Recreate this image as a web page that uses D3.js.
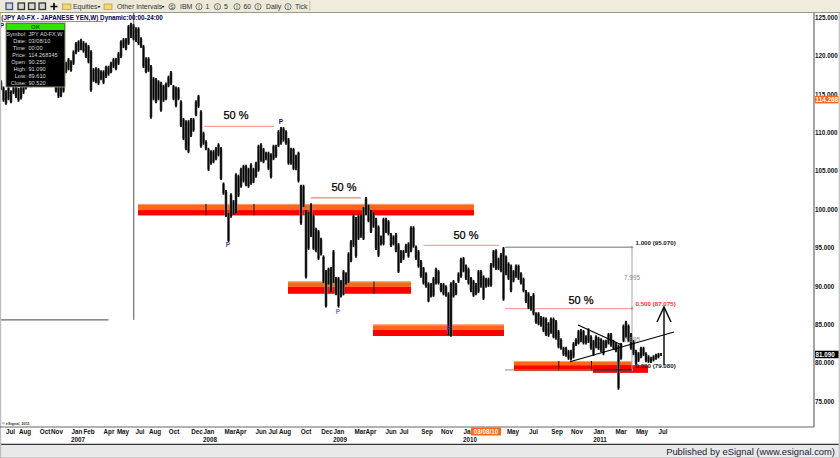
<!DOCTYPE html>
<html>
<head>
<meta charset="utf-8">
<script src="https://cdn.jsdelivr.net/npm/d3@7"></script>
<style>
  html, body { margin: 0; padding: 0; background: #fff; }
  svg { display: block; font-family: "Liberation Sans", Arial, sans-serif; }
</style>
</head>
<body>
<div id="chart"></div>
<script>
// weekly high / low of JPY A0-FX
const highs = [
  116.8,116.0,115.5,116.0,115.5,117.0,116.5,115.8,116.0,116.5,
  117.0,117.5,117.2,117.8,118.0,118.5,118.3,118.0,118.4,118.2,
  117.8,117.6,117.2,116.8,116.5,117.5,119.2,119.7,119.4,120.7,
  121.8,122.0,122.2,121.9,121.7,121.4,120.7,118.4,118.5,118.4,
  118.1,118.1,118.7,118.7,119.2,119.7,119.7,120.5,122.0,122.3,
  122.3,124.0,124.3,124.1,123.7,123.7,122.4,121.4,119.8,119.8,
  118.8,117.2,117.1,116.8,116.6,116.2,116.5,117.4,118.0,116.2,
  116.0,115.9,114.2,111.9,111.6,111.6,111.9,111.9,114.2,114.9,
  112.9,110.1,109.0,108.0,107.7,107.7,108.1,108.6,108.1,103.5,
  102.5,99.5,102.1,101.2,104.7,104.5,105.4,105.8,105.8,105.4,
  106.0,105.4,106.2,108.4,108.6,108.0,107.5,107.5,107.3,108.4,
  108.4,110.3,110.7,110.7,110.3,109.3,108.0,108.0,107.1,107.5,
  103.2,103.2,99.9,99.6,100.8,99.3,97.6,97.3,96.3,94.0,
  92.1,92.4,92.5,94.7,91.2,91.2,90.8,92.1,91.8,94.4,
  96.0,99.3,99.0,99.3,99.3,100.3,101.6,100.6,99.9,99.6,
  98.9,97.9,96.6,98.9,98.9,98.6,96.9,96.6,96.9,95.6,
  94.7,94.7,95.5,95.7,97.8,97.8,95.3,94.7,93.4,92.5,
  91.8,90.5,90.4,91.2,92.4,92.1,90.4,90.4,90.1,89.2,
  90.5,90.8,90.4,91.8,93.7,93.8,92.8,92.4,91.2,90.8,
  90.4,92.1,92.1,91.4,91.1,91.1,93.0,94.7,94.8,93.7,
  94.3,95.1,94.0,93.1,92.8,92.1,92.8,92.8,91.8,91.1,
  89.5,89.2,88.7,89.1,86.6,86.6,86.1,86.0,85.9,85.3,
  85.9,85.9,85.6,84.3,83.2,82.1,82.1,81.7,81.7,82.7,
  83.2,84.3,84.4,84.3,83.6,84.5,83.6,83.0,83.6,83.4,
  83.2,83.0,83.0,83.9,83.9,83.0,82.7,82.4,82.6,85.0,
  85.5,85.0,83.9,83.0,81.7,81.4,82.1,82.1,81.4,81.0,
  80.8,81.0,81.2,81.3,81.3
];
const lows = [
  115.5,114.0,113.6,114.2,113.8,115.0,114.5,114.0,114.3,115.0,
  115.6,116.0,115.9,116.2,116.5,117.0,116.8,116.6,116.9,116.6,
  116.2,116.0,115.2,114.5,114.6,115.2,117.7,118.1,117.9,118.8,
  120.2,120.5,120.7,120.4,119.7,119.0,115.3,116.6,116.4,116.2,
  116.8,116.3,117.1,117.4,117.7,118.4,118.1,118.8,119.7,121.0,
  120.7,121.4,122.3,122.0,121.8,121.4,121.0,118.4,117.7,117.9,
  111.8,114.2,113.8,114.2,112.7,114.0,114.2,115.9,116.2,114.2,
  113.3,114.2,110.7,109.0,107.7,107.3,109.4,110.1,112.1,113.2,
  108.0,108.4,107.7,105.0,105.8,106.0,106.4,106.9,103.8,101.9,
  99.0,95.7,98.9,99.3,99.5,101.6,102.8,103.5,103.0,102.8,
  103.2,103.4,104.1,104.9,106.2,106.0,106.4,105.1,104.0,106.4,
  106.7,108.1,108.4,108.8,108.4,105.8,105.8,105.1,105.1,103.5,
  98.0,100.3,91.0,94.7,96.4,94.7,94.4,93.4,94.0,90.4,
  87.2,90.2,89.2,90.4,88.8,87.2,88.5,88.8,90.2,90.4,
  93.1,95.1,93.7,96.0,96.3,96.0,99.3,98.3,96.9,97.6,
  94.7,93.8,95.3,95.3,96.9,96.6,95.1,95.3,94.4,91.7,
  93.0,93.4,94.3,93.7,94.4,95.0,93.4,92.4,91.1,90.2,
  89.8,87.9,88.5,88.6,90.2,90.2,89.2,88.8,88.6,83.6,
  83.4,88.5,88.8,90.4,91.1,91.8,90.8,90.2,89.2,88.6,
  88.8,89.1,89.8,88.2,89.8,89.9,89.9,92.4,92.1,92.1,
  91.8,88.1,91.4,90.8,89.2,90.5,91.1,90.8,90.2,89.2,
  87.8,87.0,86.8,86.2,85.1,84.9,84.7,84.0,83.5,83.4,
  83.8,83.2,83.0,81.9,81.7,80.9,80.8,80.4,80.3,80.6,
  82.2,82.4,82.7,82.4,82.4,82.6,81.7,80.9,81.9,81.7,
  81.4,81.0,81.9,82.4,82.1,81.7,81.4,76.5,80.4,82.7,
  83.2,82.7,81.7,81.0,79.7,80.1,80.6,80.9,80.1,80.0,
  80.0,80.2,80.4,80.6,80.9
];

const monthLabels = ["Jul","Aug","Oct","Nov","Jan","Feb","Apr","May","Jul","Aug","Oct","Dec","Jan","Mar","Apr","Jun","Jul","Aug","Oct","Dec","Jan","Mar","Apr","Jun","Jul","Sep","Nov","Jan","May","Jul","Sep","Nov","Jan","Mar","May","Jul"];
const monthWeeks = [3.8,9.6,17.6,22.4,30.4,35.2,43.2,48.8,55.6,61.6,69.2,78.4,83.2,91.6,96,104,108.8,113.6,122,130.4,135.2,143.6,148,156,161.2,170.4,178.4,187.2,204.8,213,222.4,230.4,239.2,248,256.4,264.8];
const yearLabels = ["2007","2008","2009","2010","2011"];
const yearWeeks = [30.8,83.6,135.6,187.6,239.6];
const priceTicks = [75,80,85,90,95,100,105,110,115,120,125];

// support zones: start week, end week, top, middle, bottom price
const zoneStart = [54.8,114.8,148.8,205.2];
const zoneEnd = [189.2,164,201.2,252.4];
const zoneTop = [100.7,90.6,85.0,80.25];
const zoneMid = [99.9,89.9,84.3,79.7];
const zoneBottom = [99.2,89.0,83.5,78.95];
const zoneTickWeeks = [82,101.2,149.2,223.1,236.2];
const zoneTickZone = [0,0,1,3,3];

// 50 % retracement lines
const halfStart = [81.2,124,169,201.6];
const halfEnd = [109.2,144,199.2,252.4];
const halfPrice = [110.8,101.5,95.3,87.075];
const halfLabelWeek = [94,137.2,186,232];
const halfLabelPrice = [111.7,102.4,96.1,87.65];
const pivotWeeks = [112,90.8,134.8,179,0.4];
const pivotPrices = [111.05,95.1,86.4,84.1,123.6];

const fibLabels = ["1.000 (95.070)","0.500 (87.075)","0.000 (79.080)"];
const fibPrices = [95.07,87.075,79.08];
const fibHeight = ["7.995","7.995"];
const fibHeightPrices = [91.0,83.0];

const tooltipKeys = ["Symbol:","Date:","Time:","Price:","Open:","High:","Low:","Close:"];
const tooltipValues = ["JPY A0-FX,W","03/08/10","00:00","114.268345","90.250","91.090","89.610","90.520"];

const width = 840, height = 458;
const axisX = 814, axisY = 427, chartTop = 13;
const orange = "#ff661a";

const x = d3.scaleLinear().domain([0, 100]).range([1, 251]);
const y = d3.scaleLinear().domain([75, 125]).range([401.3, 17.3]);

const svg = d3.select("#chart").append("svg")
  .attr("width", width)
  .attr("height", height);

svg.append("rect").attr("width", width).attr("height", height).attr("fill", "#fff");

// zones sit under the price bars
const zones = svg.append("g");
zoneStart.forEach((start, i) => {
  zones.append("rect")
    .attr("x", x(start)).attr("y", y(zoneTop[i]))
    .attr("width", x(zoneEnd[i]) - x(start))
    .attr("height", y(zoneMid[i]) - y(zoneTop[i]))
    .attr("fill", orange);
  zones.append("rect")
    .attr("x", x(start)).attr("y", y(zoneMid[i]))
    .attr("width", x(zoneEnd[i]) - x(start))
    .attr("height", y(zoneBottom[i]) - y(zoneMid[i]))
    .attr("fill", "#ff0000");
  zones.append("rect")
    .attr("x", x(start)).attr("y", y(zoneTop[i]))
    .attr("width", x(zoneEnd[i]) - x(start))
    .attr("height", 1)
    .attr("fill", "#ffa27a");
});
// extra red strip under the last zone
zones.append("rect")
  .attr("x", x(236.8)).attr("y", y(79.7))
  .attr("width", x(258.8) - x(236.8))
  .attr("height", y(78.7) - y(79.7))
  .attr("fill", "#ff0000");

zoneTickWeeks.forEach((week, i) => {
  const zone = zoneTickZone[i];
  zones.append("line")
    .attr("x1", x(week)).attr("x2", x(week))
    .attr("y1", y(zoneTop[zone])).attr("y2", y(zoneBottom[zone]))
    .attr("stroke", "#111").attr("stroke-width", 1);
});

// crosshair
svg.append("line")
  .attr("x1", x(53.1)).attr("x2", x(53.1))
  .attr("y1", chartTop).attr("y2", y(85.6))
  .attr("stroke", "#555").attr("stroke-width", 1);
svg.append("line")
  .attr("x1", 0).attr("x2", x(43))
  .attr("y1", y(85.6)).attr("y2", y(85.6))
  .attr("stroke", "#444").attr("stroke-width", 1);

// pink 50 % lines
halfStart.forEach((start, i) => {
  svg.append("line")
    .attr("x1", x(start)).attr("x2", x(halfEnd[i]))
    .attr("y1", y(halfPrice[i])).attr("y2", y(halfPrice[i]))
    .attr("stroke", i === 1 ? "#f08070" : "#ffa0a0")
    .attr("stroke-width", 1.3);
});

// fib grid
svg.append("line")
  .attr("x1", x(201.6)).attr("x2", x(252.4))
  .attr("y1", y(95.07)).attr("y2", y(95.07))
  .attr("stroke", "#a0a0a0").attr("stroke-width", 1.5);
svg.append("line")
  .attr("x1", x(201.6)).attr("x2", x(252.4))
  .attr("y1", y(79.08)).attr("y2", y(79.08))
  .attr("stroke", "#888").attr("stroke-width", 1);
svg.append("line")
  .attr("x1", x(252.4)).attr("x2", x(252.4))
  .attr("y1", y(95.07)).attr("y2", y(79.08))
  .attr("stroke", "#a8a8a8").attr("stroke-width", 1);
fibPrices.forEach((price) => {
  svg.append("circle")
    .attr("cx", x(252.4)).attr("cy", y(price)).attr("r", 1.2)
    .attr("fill", "#999");
});

// price bars: grey halo first, the black stem over it
const bars = svg.append("g");
bars.selectAll("line.halo")
  .data(highs)
  .enter()
  .append("line")
  .attr("class", "halo")
  .attr("x1", (d, i) => x(i))
  .attr("x2", (d, i) => x(i))
  .attr("y1", (d) => y(d) + 1.5)
  .attr("y2", (d, i) => y(lows[i]) - 1.5)
  .attr("stroke", "#8c8c8c")
  .attr("stroke-width", 3);
bars.selectAll("line.stem")
  .data(highs)
  .enter()
  .append("line")
  .attr("class", "stem")
  .attr("x1", (d, i) => x(i))
  .attr("x2", (d, i) => x(i))
  .attr("y1", (d) => y(d))
  .attr("y2", (d, i) => y(lows[i]))
  .attr("stroke", "#000")
  .attr("stroke-width", 1.7);

svg.append("line")
  .attr("x1", x(236.8)).attr("x2", x(252.4))
  .attr("y1", y(79.08)).attr("y2", y(79.08))
  .attr("stroke", "#222").attr("stroke-width", 1.2);

// trend lines and target arrow
const trendLine = d3.line().x((d) => x(d[0])).y((d) => y(d[1]));
[
  [[227.6, 80.16], [269.2, 84.03]],
  [[230.8, 84.93], [248.4, 82.33]],
  [[265.2, 79.73], [265.2, 87.28]],
  [[262.4, 85.33], [265.2, 87.28], [268, 85.33]]
].forEach((points, i) => {
  svg.append("path")
    .attr("d", trendLine(points))
    .attr("fill", "none")
    .attr("stroke", "#000")
    .attr("stroke-width", i < 2 ? 1.1 : 1.4);
});

// labels on the chart
halfLabelWeek.forEach((week, i) => {
  svg.append("text")
    .attr("x", x(week)).attr("y", y(halfLabelPrice[i]))
    .attr("text-anchor", "middle")
    .attr("font-size", 11)
    .attr("stroke", "#000").attr("stroke-width", 0.25)
    .attr("fill", "#000")
    .text("50 %");
});
pivotWeeks.forEach((week, i) => {
  svg.append("text")
    .attr("x", x(week)).attr("y", y(pivotPrices[i]))
    .attr("text-anchor", "middle")
    .attr("font-size", 6.5)
    .attr("font-weight", 700)
    .attr("fill", ["#000080", "#6a3d9a", "#8a6bc0", "#6a2fa0", "#000080"][i])
    .text("P");
});
fibLabels.forEach((label, i) => {
  svg.append("text")
    .attr("x", x(252.4) + 3.5).attr("y", y(fibPrices[i]) - [2.2, 2.2, 2][i])
    .attr("font-size", 6.2)
    .attr("font-weight", 700)
    .attr("fill", i === 1 ? "#ff3030" : "#222")
    .text(label);
});
fibHeight.forEach((label, i) => {
  svg.append("text")
    .attr("x", x(252.4)).attr("y", y(fibHeightPrices[i]) + 2)
    .attr("text-anchor", "middle")
    .attr("font-size", 6.4)
    .attr("fill", "#888")
    .text(label);
});

// title
svg.append("text")
  .attr("x", 1.3).attr("y", 20)
  .attr("font-size", 6.3).attr("font-weight", 700)
  .attr("fill", "#000050")
  .text("(JPY A0-FX - JAPANESE YEN,W) Dynamic:00:00-24:00");
svg.append("line")
  .attr("x1", 2).attr("x2", 103).attr("y1", 21.5).attr("y2", 21.5)
  .attr("stroke", "#f04040").attr("stroke-width", 0.8);

// cursor window
svg.append("rect")
  .attr("x", 6).attr("y", 23).attr("width", 59).attr("height", 64)
  .attr("fill", "#000").attr("stroke", "#8a8a70").attr("stroke-width", 1);
svg.append("rect")
  .attr("x", 6.5).attr("y", 23.5).attr("width", 58).attr("height", 6.5)
  .attr("fill", "#2ee600");
svg.append("text")
  .attr("x", 35.5).attr("y", 29)
  .attr("text-anchor", "middle")
  .attr("font-size", 6).attr("font-weight", 700)
  .attr("fill", "#0a6600")
  .text("OK");
tooltipKeys.forEach((key, i) => {
  const rowY = 36 + i * 7;
  svg.append("text")
    .attr("x", 26.5).attr("y", rowY)
    .attr("text-anchor", "end")
    .attr("font-size", 5.6).attr("fill", "#d8d8d8")
    .text(key);
  svg.append("text")
    .attr("x", 28.5).attr("y", rowY)
    .attr("font-size", 5.6).attr("fill", "#d8d8d8")
    .text(tooltipValues[i]);
});

// frame and footer
svg.append("rect").attr("x", axisX).attr("y", chartTop).attr("width", width - axisX).attr("height", axisY + 17 - chartTop).attr("fill", "#fff");
svg.append("rect").attr("y", 445).attr("width", width).attr("height", 13).attr("fill", "#e9e9e9");
svg.append("rect").attr("y", 457).attr("width", width).attr("height", 1).attr("fill", "#cfcfcf");
svg.append("line").attr("x1", 0).attr("x2", width).attr("y1", 444.3).attr("y2", 444.3).attr("stroke", "#000").attr("stroke-width", 1);
svg.append("rect").attr("x", 0).attr("y", chartTop).attr("width", 1.2).attr("height", height - chartTop).attr("fill", "#bdbdbd");
svg.append("rect").attr("x", 838.6).attr("y", 0).attr("width", 1.4).attr("height", height).attr("fill", "#c8c8c8");
svg.append("text")
  .attr("x", 835).attr("y", 454.8)
  .attr("text-anchor", "end")
  .attr("font-size", 9.4)
  .attr("fill", "#1a1a3a")
  .text("Published by eSignal (www.esignal.com)");

// axes
const monthAxis = svg.append("g")
  .attr("transform", `translate(0,${axisY})`);
monthWeeks.forEach((week, i) => {
  monthAxis.append("text")
    .attr("x", x(week)).attr("y", 7)
    .attr("text-anchor", "middle")
    .attr("font-size", 6.3).attr("font-weight", 700)
    .attr("fill", "#111")
    .text(monthLabels[i]);
});
yearWeeks.forEach((week, i) => {
  monthAxis.append("text")
    .attr("x", x(week)).attr("y", 15)
    .attr("text-anchor", "middle")
    .attr("font-size", 6.3).attr("font-weight", 700)
    .attr("fill", "#111")
    .text(yearLabels[i]);
});
svg.append("line")
  .attr("x1", 0).attr("x2", axisX).attr("y1", axisY).attr("y2", axisY)
  .attr("stroke", "#666").attr("stroke-width", 1);

svg.append("g")
  .attr("transform", `translate(${axisX},0)`)
  .call(d3.axisRight(y).tickValues(priceTicks).tickFormat(d3.format(".3f")).tickSize(0).tickPadding(1))
  .call((g) => g.select(".domain").remove())
  .call((g) => g.selectAll("text")
    .attr("font-family", "Liberation Sans")
    .attr("font-size", 6.3)
    .attr("font-weight", 700)
    .attr("fill", "#111"));
svg.append("line")
  .attr("x1", axisX).attr("x2", axisX).attr("y1", chartTop).attr("y2", axisY)
  .attr("stroke", "#666").attr("stroke-width", 1.2);

// last price flags
[[114.268, orange], [81.09, "#000"]].forEach(([price, colour]) => {
  svg.append("rect")
    .attr("x", axisX + 1).attr("y", y(price) - 3.8)
    .attr("width", 23.5).attr("height", 7.5)
    .attr("fill", colour);
  svg.append("text")
    .attr("x", axisX + 1.5).attr("y", y(price) + 2.2)
    .attr("font-size", 6.3).attr("font-weight", 700)
    .attr("fill", "#fff")
    .text(d3.format(".3f")(price));
});

// cursor date flag
svg.append("rect")
  .attr("x", 471).attr("y", axisY + 0.5).attr("width", 30).attr("height", 8)
  .attr("fill", orange);
svg.append("text")
  .attr("x", 486).attr("y", axisY + 7)
  .attr("text-anchor", "middle")
  .attr("font-size", 6.3).attr("font-weight", 700)
  .attr("fill", "#fff")
  .text("03/08/10");

svg.append("text")
  .attr("x", 2).attr("y", 425.2)
  .attr("font-size", 3.8).attr("font-weight", 700)
  .attr("fill", "#333")
  .text("© eSignal, 2011");

// toolbar
svg.append("rect").attr("width", width).attr("height", 12).attr("fill", "#ece9d8");
svg.append("rect").attr("x", 310).attr("width", width - 310).attr("height", 12).attr("fill", "#efecdd");
svg.append("rect").attr("y", 12).attr("width", width).attr("height", 1).attr("fill", "#9a9a8c");
svg.append("rect").attr("x", 309.5).attr("y", 1).attr("width", 0.8).attr("height", 10).attr("fill", "#b5b29e");

[[6, "#3a4fb0"], [18, "#333"], [28.5, "#333"], [39, "#333"]].forEach(([left, colour]) => {
  svg.append("rect").attr("x", left).attr("y", 3).attr("width", 6.5).attr("height", 6.5)
    .attr("fill", "#d8d8cc").attr("stroke", colour).attr("stroke-width", 1.3);
});
svg.append("path").attr("d", "M54 3V10M50.5 6.5H57.5").attr("stroke", "#000").attr("stroke-width", 1.6);

[[62.5, 71, "Equities", 73, 99], [104, 112, "Other Intervals", 117, 163]].forEach(([left, right, label, textX, arrowX]) => {
  svg.append("rect").attr("x", left).attr("y", 4).attr("width", right - left).attr("height", 5.5)
    .attr("fill", "#f5d76e").attr("stroke", "#a08a30").attr("stroke-width", 0.6);
  svg.append("text").attr("x", textX).attr("y", 9).attr("font-size", 6.9).attr("fill", "#333").text(label);
  svg.append("path").attr("d", `M${arrowX - 1.5} 6H${arrowX + 1.5}L${arrowX} 8Z`).attr("fill", "#222");
});

[[172, "S", 180, "IBM"], [199, "I", 205.5, "1"], [217.5, "I", 224, "5"], [237, "I", 243.5, "60"], [258, "I", 266, "Daily"], [288, "I", 295, "Tick"]].forEach(([circleX, glyph, textX, label]) => {
  svg.append("circle").attr("cx", circleX).attr("cy", 6.7).attr("r", 3.1)
    .attr("fill", "none").attr("stroke", "#444").attr("stroke-width", 0.7);
  svg.append("text").attr("x", circleX).attr("y", 8.6).attr("text-anchor", "middle")
    .attr("font-size", 5).attr("fill", "#333").text(glyph);
  svg.append("text").attr("x", textX).attr("y", 9).attr("font-size", 6.9).attr("fill", "#333").text(label);
});
</script>
</body>
</html>
